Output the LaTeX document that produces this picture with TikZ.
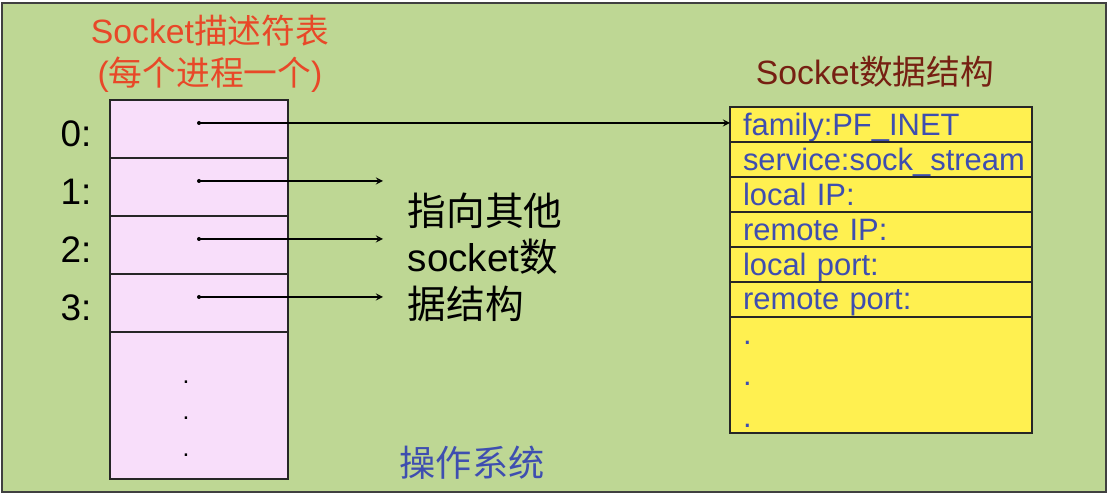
\documentclass[tikz,border=0pt]{standalone}
\usepackage{fontspec}
\setmainfont{Liberation Sans}
\newfontfamily\cjk{Noto Sans CJK SC}
\usepackage{tikz}
\usetikzlibrary{positioning}

\definecolor{osgreen}{RGB}{190,215,148}
\definecolor{slotpink}{RGB}{248,222,250}
\definecolor{fieldyellow}{RGB}{255,240,80}
\definecolor{titlered}{RGB}{232,72,40}
\definecolor{titlebrown}{RGB}{118,32,18}
\definecolor{fieldblue}{RGB}{62,78,176}

\begin{document}
\begin{tikzpicture}[>=stealth, line width=0.8pt,
  slot/.style={draw=black!85, fill=slotpink, minimum width=3.56cm, minimum height=1.16cm, inner sep=0pt, outer sep=0pt},
  field/.style={draw=black!85, fill=fieldyellow, minimum width=6.04cm, minimum height=0.7cm, text width=5.52cm, inner xsep=0.26cm, inner ysep=0pt, outer sep=0pt, align=left, text=fieldblue, font=\fontsize{17.6}{23.6}\selectfont},
  entry/.style={field, text depth=0pt},
  idx/.style={inner sep=0pt, font=\fontsize{21}{25}\selectfont},
  heading/.style={align=center, font=\fontsize{19.2}{24}\selectfont}]
\useasboundingbox (0,0) rectangle (22.16,9.88);
\draw[fill=osgreen, draw=black!75, line width=1pt] (0.04,0.04) rectangle (22.12,9.82);

% descriptor table
\node[heading, text=titlered] (fdtitle) at (4.2,8.80) {Socket{\cjk 描述符表}\\({\cjk 每个进程一个})};
\node[slot] (s0) at (3.98,7.30) {};
\foreach \i [count=\j from 0] in {1,2,3}
  \node[slot, below=0pt of s\j] (s\i) {};
\node[slot, minimum height=2.94cm, below=0pt of s3] (s4) {};
\node[inner sep=0pt, align=center, font=\fontsize{14}{21}\selectfont] (more) at (3.72,1.65) {\vphantom{I}.\\.\\.};
\foreach \i in {0,...,3} {
  \node[idx, left=0.36cm of s\i, yshift=-0.09cm] (i\i) {\i:};
  \coordinate (p\i) at ([yshift=0.12cm]s\i.center);
  \fill (p\i) circle (0.04);
}

% socket data structure
\node[heading, text=titlebrown] (sdtitle) at (17.5,8.44) {Socket{\cjk 数据结构}};
\node[entry] (f0) at (17.62,7.39) {family:PF\_INET};
\node[entry, below=0pt of f0] (f1) {service:sock\_stream};
\node[entry, below=0pt of f1] (f2) {local IP:};
\node[entry, below=0pt of f2] (f3) {remote IP:};
\node[entry, below=0pt of f3] (f4) {local port:};
\node[entry, below=0pt of f4] (f5) {remote port:};
\node[field, minimum height=2.32cm, below=0pt of f5] (f6) {\vphantom{I}.\\.\\.};

% pointers
\draw[->] (p0) -- (p0 -| f0.west);
\foreach \i in {1,2,3} {
  \coordinate (e\i) at ([xshift=3.68cm]p\i);
  \draw[->] (p\i) -- (e\i);
}
\node[anchor=west, align=left, inner sep=0pt, font=\fontsize{22}{26.5}\selectfont] (other) at (8.14,4.74) {{\cjk 指向其他}\\socket{\cjk 数}\\{\cjk 据结构}};

\node[text=fieldblue, font=\fontsize{20.6}{24}\selectfont\cjk] (os) at (9.44,0.62) {操作系统};
\end{tikzpicture}
\end{document}
